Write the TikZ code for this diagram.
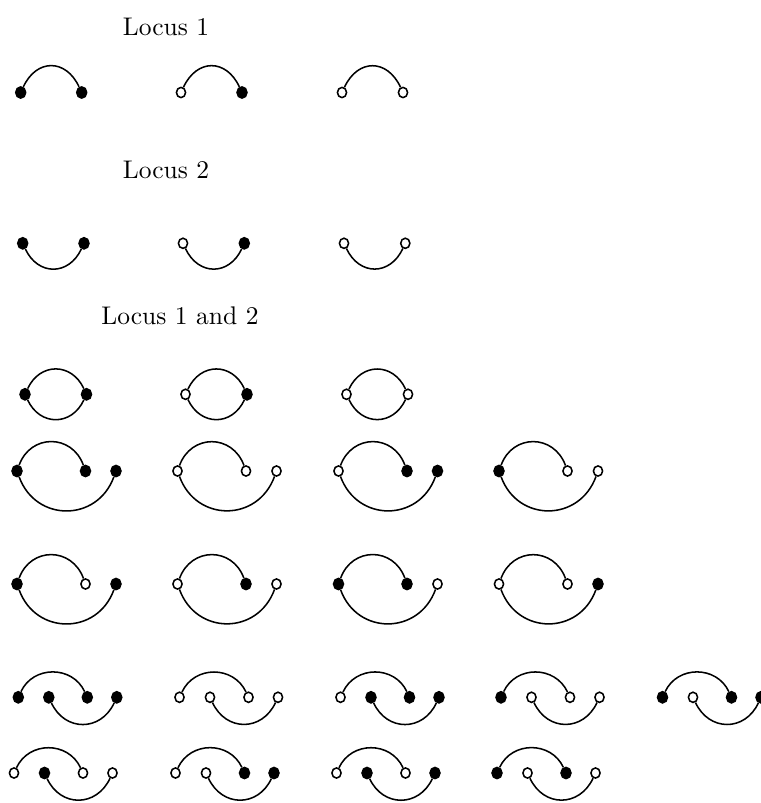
\documentclass[tikz,border=0pt]{standalone}
\usetikzlibrary{shapes.geometric}
\tikzset{
  every picture/.style={x=0.392pt,y=0.392pt},
  dotf/.style={ellipse,draw=black,fill=black,line width=0.6pt,inner sep=0pt,minimum width=3.9pt,minimum height=4.4pt},
  doto/.style={ellipse,draw=black,fill=white,line width=0.6pt,inner sep=0pt,minimum width=3.6pt,minimum height=4.0pt},
  link/.style={line width=0.6pt,draw=black},
  label/.style={font=\normalsize,inner sep=0pt}
}
% F / O chooser
\newcommand{\dsty}[1]{\if#1Fdotf\else doto\fi}
% two-dot diagram: name, x, y, sep, s1, s2
\newcommand{\twodots}[6]{%
  \node[\dsty{#5}] (#1-1) at (#2,#3) {};
  \node[\dsty{#6}] (#1-2) at ({#2+#4},#3) {};}
% three-dot: name, x, y, s1, s2, s3
\newcommand{\threedots}[6]{%
  \node[\dsty{#4}] (#1-1) at (#2,#3) {};
  \node[\dsty{#5}] (#1-2) at ({#2+68.5},#3) {};
  \node[\dsty{#6}] (#1-3) at ({#2+99},#3) {};
  \draw[link] (#1-1) .. controls +(70:39.7) and +(110:39.7) .. (#1-2);
  \draw[link] (#1-1) .. controls +(-70:54.6) and +(-110:54.6) .. (#1-3);}
% four-dot: name, x, y, s1..s4
\newcommand{\fourdots}[7]{%
  \node[\dsty{#4}] (#1-1) at (#2,#3) {};
  \node[\dsty{#5}] (#1-2) at ({#2+30.5},#3) {};
  \node[\dsty{#6}] (#1-3) at ({#2+69},#3) {};
  \node[\dsty{#7}] (#1-4) at ({#2+98.5},#3) {};
  \draw[link] (#1-1) .. controls +(65:35.3) and +(115:35.3) .. (#1-3);
  \draw[link] (#1-2) .. controls +(-65:38) and +(-115:38) .. (#1-4);}
\begin{document}
\begin{tikzpicture}
\useasboundingbox (0,0) rectangle (760,-803);
% titles
\node[label] (t1) at (166,-27) {Locus 1};
\node[label] (t2) at (166,-170) {Locus 2};
\node[label] (t3) at (180,-316) {Locus 1 and 2};
% row 1
\twodots{a1}{20.7}{-92.5}{61}{F}{F}
\twodots{a2}{181}{-92.5}{61}{O}{F}
\twodots{a3}{342}{-92.5}{61}{O}{O}
\foreach \n in {a1,a2,a3}{\draw[link] (\n-1) .. controls +(65:37.5) and +(115:37.5) .. (\n-2);}
% row 2
\twodots{b1}{22.7}{-243.3}{61.3}{F}{F}
\twodots{b2}{183}{-243.3}{61.3}{O}{F}
\twodots{b3}{344}{-243.3}{61.3}{O}{O}
\foreach \n in {b1,b2,b3}{\draw[link] (\n-1) .. controls +(-65:36) and +(-115:36) .. (\n-2);}
% row 3
\twodots{c1}{25}{-394.3}{61.5}{F}{F}
\twodots{c2}{185.5}{-394.3}{61.5}{O}{F}
\twodots{c3}{346.5}{-394.3}{61.5}{O}{O}
\foreach \n in {c1,c2,c3}{
  \draw[link] (\n-1) .. controls +(65:35.3) and +(115:35.3) .. (\n-2);
  \draw[link] (\n-1) .. controls +(-65:35.3) and +(-115:35.3) .. (\n-2);}
% row 4
\threedots{d1}{17}{-471}{F}{F}{F}
\threedots{d2}{177.5}{-471}{O}{O}{O}
\threedots{d3}{338.5}{-471}{O}{F}{F}
\threedots{d4}{499}{-471}{F}{O}{O}
% row 5
\threedots{e1}{17}{-584}{F}{O}{F}
\threedots{e2}{177.5}{-584}{O}{F}{O}
\threedots{e3}{338.5}{-584}{F}{F}{O}
\threedots{e4}{499}{-584}{O}{O}{F}
% row 6
\fourdots{f1}{18.3}{-697.3}{F}{F}{F}{F}
\fourdots{f2}{179.5}{-697.3}{O}{O}{O}{O}
\fourdots{f3}{340.5}{-697.3}{O}{F}{F}{F}
\fourdots{f4}{501}{-697.3}{F}{O}{O}{O}
\fourdots{f5}{662.5}{-697.3}{F}{O}{F}{F}
% row 7
\fourdots{g1}{14}{-773}{O}{F}{O}{O}
\fourdots{g2}{175.5}{-773}{O}{O}{F}{F}
\fourdots{g3}{336.5}{-773}{O}{F}{O}{F}
\fourdots{g4}{497}{-773}{F}{O}{F}{O}
\end{tikzpicture}
\end{document}
